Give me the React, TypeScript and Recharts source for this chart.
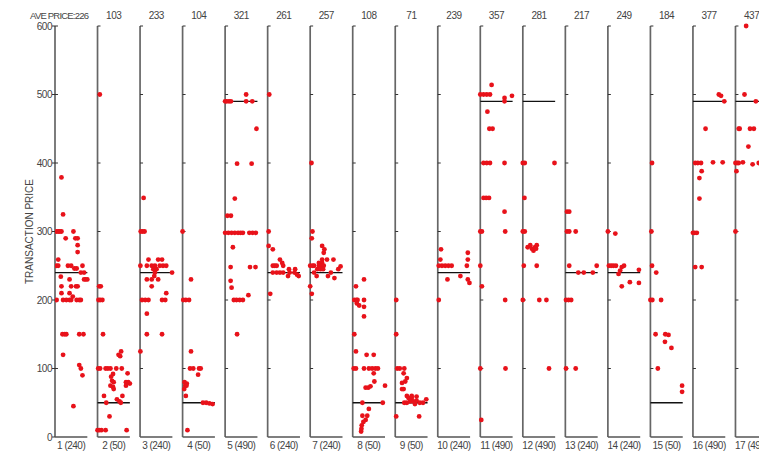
import React from 'react';
import { ScatterChart, Scatter, XAxis, YAxis, ReferenceLine } from 'recharts';

// average transaction price shown above each period
const avePrice = [226, 103, 233, 104, 321, 261, 257, 108, 71, 239, 357, 281, 217, 249, 184, 377, 437];
// equilibrium price of each period (in brackets under the panel)
const equilibrium = [240, 50, 240, 50, 490, 240, 240, 50, 50, 240, 490, 490, 240, 240, 50, 490, 490];
const priceTicks = [0, 100, 200, 300, 400, 500, 600];

// [time within period (0-100), transaction price]
const trades: [number, number][][] = [
    [[20,379],[25,325],[5,300],[10,300],[15,300],[20,300],[57,300],[33,290],[63,290],[70,290],[70,280],[70,270],[10,259],[5,250],[10,250],[40,250],[50,250],[60,246],[67,246],[85,250],[80,240],[90,240],[18,234],[45,230],[90,230],[95,230],[100,230],[20,220],[50,220],[65,220],[70,220],[20,210],[45,210],[55,205],[5,200],[25,200],[35,200],[45,200],[50,200],[67,200],[75,200],[80,200],[23,150],[30,150],[35,150],[75,150],[88,150],[25,120],[75,105],[80,100],[85,90],[57,45]],
    [[7,500],[5,220],[10,220],[3,200],[8,200],[15,200],[17,150],[73,125],[65,120],[70,118],[2,100],[8,100],[25,100],[32,100],[40,100],[58,100],[75,100],[48,92],[93,93],[42,88],[45,82],[50,80],[88,80],[95,80],[100,78],[40,75],[48,73],[88,75],[50,70],[20,60],[77,60],[60,55],[68,52],[27,50],[72,50],[37,30],[0,10],[5,10],[12,10],[25,10],[90,10]],
    [[11,349],[2,300],[8,300],[14,300],[26,259],[56,259],[68,259],[1,250],[21,250],[36,250],[46,250],[61,250],[71,250],[81,250],[41,245],[51,245],[46,240],[99,240],[44,235],[21,230],[36,230],[56,230],[36,220],[81,210],[6,200],[16,200],[26,200],[68,200],[78,200],[21,180],[21,150],[68,150],[1,125]],
    [[0,300],[26,230],[2,200],[10,200],[20,200],[26,125],[23,100],[33,100],[51,100],[56,100],[48,91],[6,80],[13,78],[8,75],[12,75],[5,70],[10,60],[63,50],[73,50],[83,49],[93,48],[15,10]],
    [[65,500],[0,490],[5,490],[12,490],[18,490],[65,490],[84,490],[97,450],[37,399],[82,399],[30,348],[7,323],[18,323],[0,298],[10,298],[20,298],[30,298],[40,298],[48,298],[55,298],[75,298],[85,298],[95,298],[24,277],[17,248],[77,248],[94,248],[17,228],[20,218],[72,207],[27,200],[35,200],[45,200],[55,200],[37,150]],
    [[5,500],[3,300],[3,279],[16,274],[38,259],[45,254],[16,250],[22,250],[28,250],[48,250],[16,240],[28,240],[38,240],[48,240],[68,240],[83,240],[66,245],[85,245],[63,235],[96,235],[91,237],[8,209]],
    [[4,400],[7,300],[5,290],[37,279],[44,274],[42,269],[37,259],[52,259],[72,259],[27,254],[37,254],[0,250],[8,250],[12,250],[27,250],[35,250],[42,250],[94,249],[87,245],[22,245],[32,245],[40,245],[12,240],[64,240],[20,235],[55,235],[75,232],[0,220],[5,209]],
    [[35,230],[10,220],[5,200],[12,200],[15,200],[35,200],[13,195],[35,190],[20,192],[35,176],[5,150],[10,125],[43,120],[65,120],[3,100],[10,100],[35,100],[50,100],[60,100],[70,100],[78,100],[65,93],[67,81],[40,72],[48,72],[55,74],[100,75],[30,50],[93,50],[50,41],[45,31],[40,25],[30,31],[33,22],[28,17],[27,12],[26,8]],
    [[3,200],[3,150],[6,100],[14,100],[28,100],[26,93],[36,86],[31,81],[21,79],[26,70],[21,70],[36,60],[51,60],[66,59],[41,57],[51,57],[46,52],[28,50],[36,50],[66,53],[76,50],[96,55],[86,50],[56,52],[61,48],[3,30],[74,30]],
    [[10,274],[8,259],[93,269],[93,259],[3,250],[13,250],[23,250],[33,250],[43,250],[90,250],[30,230],[70,235],[93,230],[98,225],[3,200]],
    [[0,500],[10,500],[20,500],[30,500],[35,514],[75,495],[75,490],[22,475],[28,450],[38,450],[98,498],[10,400],[20,400],[30,400],[75,400],[10,349],[18,349],[27,349],[75,329],[0,300],[5,300],[77,300],[0,250],[5,220],[77,200],[0,100],[78,100],[3,25]],
    [[0,400],[6,400],[98,400],[5,349],[0,300],[6,300],[15,277],[23,280],[28,275],[33,272],[38,277],[43,280],[41,275],[3,250],[43,250],[0,200],[51,200],[73,200],[81,100]],
    [[5,329],[12,329],[5,300],[12,300],[32,300],[12,250],[97,250],[40,240],[57,240],[85,240],[2,200],[10,200],[18,200],[2,100],[32,100]],
    [[0,300],[23,297],[3,250],[10,250],[17,250],[25,250],[43,248],[50,250],[38,243],[33,238],[96,244],[43,220],[68,226],[96,225]],
    [[5,400],[3,300],[5,250],[18,240],[0,200],[6,200],[33,200],[16,150],[46,150],[56,149],[45,139],[65,130],[23,100],[98,75],[98,66]],
    [[80,500],[87,498],[97,490],[39,450],[7,400],[15,400],[25,400],[62,401],[92,401],[27,388],[20,378],[20,348],[0,298],[5,298],[12,298],[7,248],[27,248]],
    [[33,600],[28,500],[63,490],[10,450],[13,450],[45,450],[57,450],[40,424],[0,400],[5,400],[10,400],[23,401],[53,398],[72,400],[3,388],[0,300]],
];

const PANEL_W = 0.76;
const LABEL_POS = 0.38;

const points = trades.flatMap((pts, i) => pts.map(([t, p]) => ({ x: i + (t / 100) * PANEL_W, y: p })));
const labelTicks = avePrice.map((_, i) => i + LABEL_POS);

const renderTopTick = (props: any) => {
    const { x, y, index } = props;
    const first = index === 0;
    return (
        <text
            key={`top-${index}`}
            x={first ? x + 17 : x}
            y={y + 1}
            textAnchor={first ? 'end' : 'middle'}
            fontSize={first ? 9.5 : 10}
            fill="#444"
            letterSpacing={first ? -0.8 : -0.5}
        >
            {first ? `AVE PRICE:${avePrice[0]}` : avePrice[index]}
        </text>
    );
};

const Dot = (props: any) => <circle cx={props.cx} cy={props.cy} r={2.4} fill="#e8121a" />;

export default function App() {
    return (
        <div style={{ position: 'absolute', left: 0, top: 0, width: 759, height: 458, overflow: 'hidden', background: '#fff', fontFamily: '"Liberation Sans", Arial, sans-serif' }}>
            <ScatterChart width={778} height={458} margin={{ top: 0, right: 0, bottom: 0, left: 0 }}>
                <XAxis
                    dataKey="x"
                    type="number"
                    domain={[0, 17]}
                    allowDataOverflow
                    ticks={labelTicks}
                    interval={0}
                    tickFormatter={(v: number) => {
                        const i = Math.round(v - LABEL_POS);
                        return `${i + 1} (${equilibrium[i]})`;
                    }}
                    axisLine={false}
                    tickLine={false}
                    tickSize={3}
                    height={21}
                    tick={{ fontSize: 10, fill: '#444', letterSpacing: -0.5 }}
                />
                <XAxis
                    xAxisId="top"
                    dataKey="x"
                    orientation="top"
                    type="number"
                    domain={[0, 17]}
                    allowDataOverflow
                    ticks={labelTicks}
                    interval={0}
                    axisLine={false}
                    tickLine={false}
                    height={26}
                    tick={renderTopTick}
                />
                <YAxis
                    dataKey="y"
                    type="number"
                    domain={[0, 600]}
                    ticks={priceTicks}
                    interval={0}
                    width={55}
                    axisLine={false}
                    tickSize={3}
                    tickMargin={0}
                    tickLine={{ stroke: '#333' }}
                    tick={{ fontSize: 10, fill: '#444', letterSpacing: -0.5 }}
                    label={{ value: 'TRANSACTION PRICE', angle: -90, position: 'insideLeft', offset: 29, style: { textAnchor: 'middle', fontSize: 10, fill: '#444' } }}
                />
                {avePrice.map((_, i) => (
                    <ReferenceLine key={`v${i}`} segment={[{ x: i, y: 0 }, { x: i, y: 600 }]} stroke="#666" strokeWidth={1.7} />
                ))}
                {avePrice.map((_, i) => (
                    <ReferenceLine key={`b${i}`} segment={[{ x: i, y: 0 }, { x: i + PANEL_W, y: 0 }]} stroke="#555" strokeWidth={1.5} />
                ))}
                {avePrice.map((_, i) =>
                    priceTicks.slice(1).map((v) => (
                        <ReferenceLine key={`t${i}-${v}`} segment={[{ x: i, y: v }, { x: i + 0.07, y: v }]} stroke="#333" strokeWidth={1} />
                    ))
                )}
                {equilibrium.map((eq, i) => (
                    <ReferenceLine xAxisId="top" key={`e${i}`} segment={[{ x: i, y: eq }, { x: i + PANEL_W, y: eq }]} stroke="#111" strokeWidth={1.3} />
                ))}
                <Scatter data={points} shape={<Dot />} isAnimationActive={false} />
            </ScatterChart>
        </div>
    );
}
